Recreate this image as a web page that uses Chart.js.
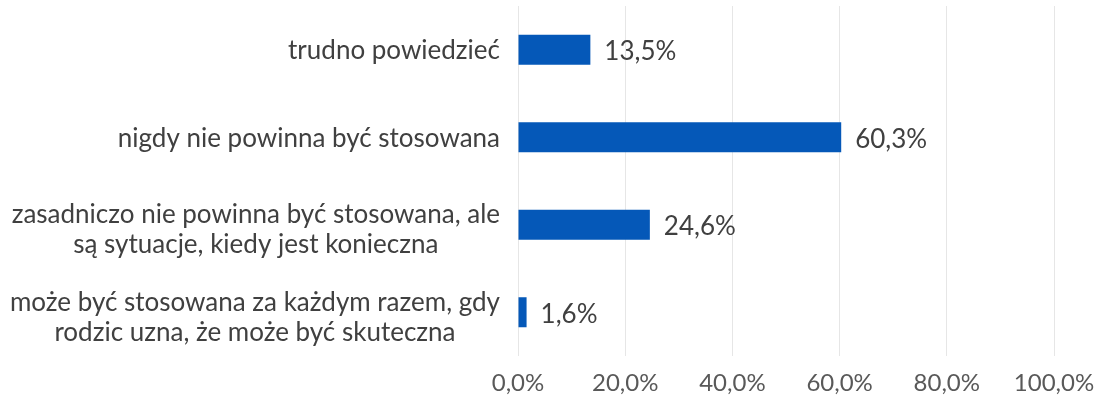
<!DOCTYPE html>
<html>
<head>
<meta charset="utf-8">
<script src="https://cdn.jsdelivr.net/npm/chart.js@4"></script>
<style>
  body { margin: 0; background: #fff; }
  #wrap { width: 1095px; height: 403px; }
</style>
</head>
<body>
<div id="wrap"><canvas id="myChart"></canvas></div>
<script>
// categories top to bottom, each one a list of lines
const categories = [
  ["trudno powiedzieć"],
  ["nigdy nie powinna być stosowana"],
  ["zasadniczo nie powinna być stosowana, ale", "są sytuacje, kiedy jest konieczna"],
  ["może być stosowana za każdym razem, gdy", "rodzic uzna, że może być skuteczna"]
];
const values = [13.5, 60.3, 24.6, 1.6];
const tickValues = [0, 20, 40, 60, 80, 100];

const fontFamily = "Lato, 'Open Sans', sans-serif";
const fmt = (v) => v.toFixed(1).replace(".", ",") + "%";

// draws the category labels: block right-aligned, lines centered in the block
const categoryLabels = {
  id: "categoryLabels",
  afterDraw(chart) {
    const ctx = chart.ctx;
    const yScale = chart.scales.y;
    const rightEdge = chart.chartArea.left - 18;
    const lineH = 30;
    ctx.save();
    ctx.font = "26px " + fontFamily;
    ctx.fillStyle = "#404040";
    ctx.textAlign = "center";
    ctx.textBaseline = "middle";
    categories.forEach((lines, i) => {
      const y = yScale.getPixelForTick(i);
      const w = Math.max(...lines.map((l) => ctx.measureText(l).width));
      const cx = rightEdge - w / 2;
      const top = y - ((lines.length - 1) * lineH) / 2 + (lines.length > 1 ? 5 : 1);
      lines.forEach((l, j) => ctx.fillText(l, cx, top + j * lineH));
    });
    ctx.restore();
  }
};

// value labels after each bar
const valueLabels = {
  id: "valueLabels",
  afterDatasetsDraw(chart) {
    const ctx = chart.ctx;
    const meta = chart.getDatasetMeta(0);
    ctx.save();
    ctx.font = "26px " + fontFamily;
    ctx.fillStyle = "#404040";
    ctx.textAlign = "left";
    ctx.textBaseline = "middle";
    meta.data.forEach((bar, i) => {
      ctx.fillText(fmt(values[i]), bar.x + 14, bar.y + 2);
    });
    ctx.restore();
  }
};

const ctx = document.getElementById("myChart").getContext("2d");
new Chart(ctx, {
  type: "bar",
  data: {
    labels: categories.map((c) => c.join(" ")),
    datasets: [
      {
        data: values,
        backgroundColor: "#0558b8",
        borderWidth: 0,
        barPercentage: 0.7,
        categoryPercentage: 0.49
      }
    ]
  },
  options: {
    indexAxis: "y",
    responsive: true,
    maintainAspectRatio: false,
    animation: false,
    layout: { padding: { top: 6, right: 0, bottom: 0, left: 0 } },
    scales: {
      x: {
        min: 0,
        max: 100,
        afterBuildTicks: (scale) => {
          scale.ticks = tickValues.map((v) => ({ value: v }));
        },
        afterFit: (scale) => {
          scale.paddingRight = 41;
          scale.paddingLeft = 0;
          scale.height = 47;
        },
        grid: { color: "#e6e6e6", lineWidth: 1, drawTicks: false },
        border: { display: false },
        ticks: {
          padding: 12.6,
          color: "#595959",
          font: { family: fontFamily, size: 24 },
          callback: (v) => fmt(v)
        }
      },
      y: {
        grid: { display: false },
        border: { display: false },
        ticks: { display: false },
        afterFit: (scale) => {
          scale.width = 518;
        }
      }
    },
    plugins: {
      legend: { display: false },
      tooltip: { enabled: false }
    }
  },
  plugins: [categoryLabels, valueLabels]
});
</script>
</body>
</html>
